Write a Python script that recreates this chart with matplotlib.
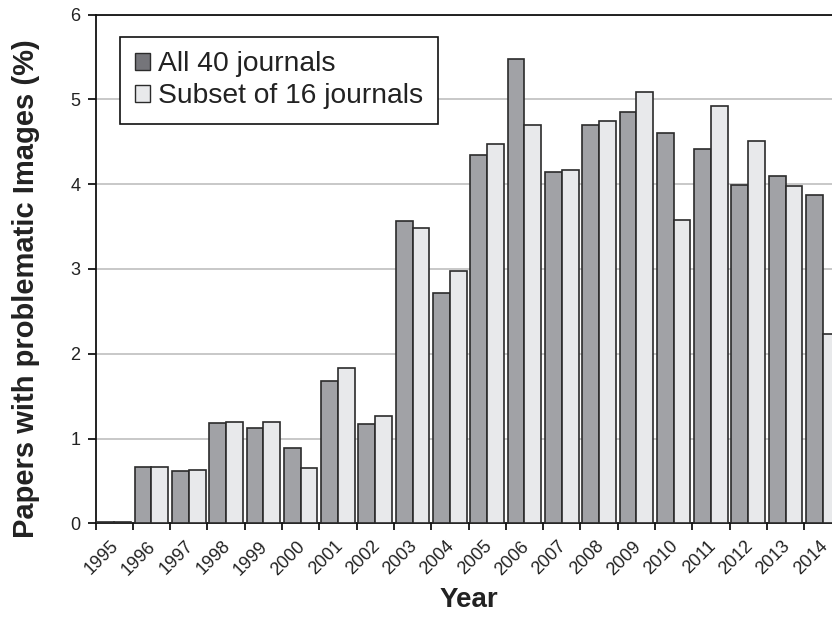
import numpy as np
import matplotlib
matplotlib.use('Agg')
import matplotlib.pyplot as plt
from matplotlib.patches import Patch
from matplotlib.transforms import ScaledTranslation

plt.rcParams['font.family'] = ['Liberation Sans', 'DejaVu Sans']

# data
years = ['1995', '1996', '1997', '1998', '1999', '2000', '2001', '2002', '2003', '2004',
         '2005', '2006', '2007', '2008', '2009', '2010', '2011', '2012', '2013', '2014']
all_40 = [0.02, 0.67, 0.62, 1.18, 1.13, 0.89, 1.68, 1.17, 3.57, 2.72,
          4.35, 5.48, 4.15, 4.70, 4.85, 4.61, 4.42, 3.99, 4.10, 3.87]
subset_16 = [0.02, 0.67, 0.63, 1.20, 1.20, 0.65, 1.83, 1.27, 3.48, 2.98,
             4.47, 4.70, 4.17, 4.75, 5.09, 3.58, 4.92, 4.51, 3.98, 2.23]
labels = ['All 40 journals', 'Subset of 16 journals']

dark = '#a1a2a6'
light = '#e8e9eb'
edge = '#2b2b2b'

fig = plt.figure(figsize=(8.32, 6.17), dpi=100)
ax = fig.add_axes([95.5 / 832, 1 - 523.3 / 617, 746 / 832, 508.6 / 617])

x = np.arange(len(years))
w = 0.45
ax.bar(x - w / 2, all_40, w, color=dark, edgecolor=edge, linewidth=1.2, zorder=3)
ax.bar(x + w / 2, subset_16, w, color=light, edgecolor=edge, linewidth=1.2, zorder=3)

ax.set_xlim(-0.5, len(years) - 0.5)
ax.set_ylim(0, 6)
ax.set_yticks(range(7))
ax.yaxis.grid(True, color='#c4c4c4', linewidth=1.3, zorder=0)
ax.set_axisbelow(True)

# ticks at category boundaries, labels at centres
ax.tick_params(axis='x', which='minor', length=0, pad=9)
ax.tick_params(axis='x', which='major', length=5, width=1.2, direction='out')
ax.tick_params(axis='y', length=6, width=1.2, direction='out', pad=5,
               labelsize=13, labelcolor='#222222')
ax.set_xticks(np.arange(-0.5, len(years), 1.0))
ax.set_xticklabels([])
ax.set_xticks(x, minor=True)
ax.set_xticklabels(years, minor=True, rotation=45, ha='right', va='top',
                   rotation_mode='anchor', fontsize=13, color='#222222')
shift = ScaledTranslation(-0.04, -0.02, fig.dpi_scale_trans)
for lab in ax.get_xticklabels(minor=True):
    lab.set_transform(lab.get_transform() + shift)

for s in ['left', 'bottom', 'top']:
    ax.spines[s].set_linewidth(1.3)
    ax.spines[s].set_color('#111111')
ax.spines['right'].set_visible(False)

ax.set_ylabel('Papers with problematic Images (%)', fontsize=21, fontweight='bold',
              color='#222222')
ax.yaxis.set_label_coords(-0.074, 0.461)
ax.set_xlabel('Year', fontsize=20, fontweight='bold', color='#222222')
ax.xaxis.set_label_coords(0.5, -0.126)

handles = [Patch(facecolor='#75757a', edgecolor=edge, linewidth=1.0),
           Patch(facecolor=light, edgecolor=edge, linewidth=1.0)]
leg = ax.legend(handles, labels, loc='upper left', bbox_to_anchor=(0.033, 0.957),
                borderaxespad=0, fontsize=20.3, frameon=True, fancybox=False,
                handlelength=0.55, handleheight=0.55, handletextpad=0.28,
                labelspacing=0.22, borderpad=0.52, framealpha=1)
leg.get_frame().set_edgecolor('#111111')
leg.get_frame().set_linewidth(1.2)
for t in leg.get_texts():
    t.set_color('#222222')

fig.savefig('out.png', dpi=100)
